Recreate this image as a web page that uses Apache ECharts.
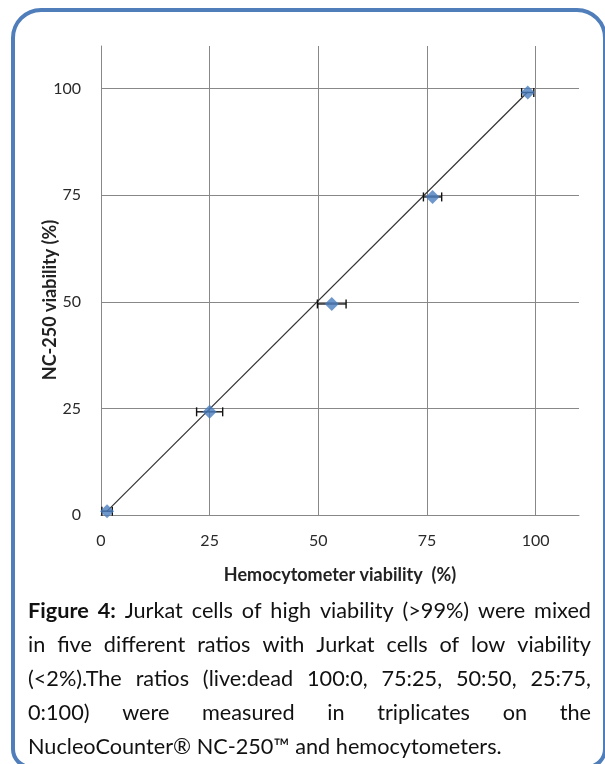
<!DOCTYPE html>
<html><head><meta charset="utf-8">
<script src="https://cdn.jsdelivr.net/npm/echarts@6/dist/echarts.min.js"></script>
<style>html,body{margin:0;padding:0;background:#fff}#c{width:605px;height:764px}</style>
</head><body><div id="c"></div>
<script>
// ---- data ----
const axisTicks = [0, 25, 50, 75, 100];
const hemocytometer = [1.4, 25.0, 53.1, 76.3, 98.2];   // x mean (%)
const nc250 = [0.9, 24.2, 49.5, 74.6, 99.1];           // y mean (%)
const hemoErr = [1.2, 3.0, 3.3, 2.1, 1.4];             // x error (+/-)
const trendX = [1.4, 98.2];
const trendY = [0.9, 99.2];
const xTitle = 'Hemocytometer viability  (%)';
const yTitle = 'NC-250 viability (%)';
const captionBold = 'Figure 4:';
const captionLines = [
  ' Jurkat cells of high viability (>99%) were mixed',
  'in five different ratios with Jurkat cells of low viability',
  '(<2%).The ratios (live:dead 100:0, 75:25, 50:50, 25:75,',
  '0:100) were measured in triplicates on the',
  'NucleoCounter® NC-250™ and hemocytometers.'
];

// ---- build ----
const FONT = 'Lato';
const ctx = document.createElement('canvas').getContext('2d');
function tw(t, size, bold) { ctx.font = (bold ? 'bold ' : '') + size + 'px ' + FONT; return ctx.measureText(t).width; }

const capLeft = 28, capRight = 591, capTop = 611, capStep = 34;
const capSize = 20 * 474 / tw(captionLines[4], 20, false);
const capColor = '#111';
const graphics = [];
graphics.push({
  type: 'rect', z: 0,
  shape: { x: 13, y: 10, width: 592, height: 757, r: [28, 28, 18, 18] },
  style: { fill: 'none', stroke: '#4F7EBB', lineWidth: 4 }
});
function addWord(text, x, y, bold) {
  graphics.push({
    type: 'text', x: x, y: y, z: 10,
    style: { text: text, fontSize: capSize, fontFamily: FONT, fontWeight: bold ? 'bold' : 'normal',
      fill: capColor, textAlign: 'left', textVerticalAlign: 'middle', align: 'left', verticalAlign: 'middle' }
  });
}
captionLines.forEach((line, i) => {
  const y = capTop + i * capStep;
  let words = line.trim().split(/\s+/).map(w => ({ t: w, b: false }));
  if (i === 0) words = captionBold.split(' ').map(w => ({ t: w, b: true })).concat(words);
  if (i === captionLines.length - 1) {
    addWord(line, capLeft, y, false);
    return;
  }
  const sum = words.reduce((a, w) => a + tw(w.t, capSize, w.b), 0);
  const gap = (capRight - capLeft - sum) / (words.length - 1);
  let x = capLeft;
  words.forEach(w => { addWord(w.t, x, y, w.b); x += tw(w.t, capSize, w.b) + gap; });
});
graphics.push({
  type: 'text', x: 50, y: 300, rotation: Math.PI / 2, z: 10,
  style: { text: yTitle, fontSize: 18, fontFamily: FONT, fontWeight: 'bold', fill: '#222',
    textAlign: 'center', textVerticalAlign: 'middle', align: 'center', verticalAlign: 'middle' }
});

const points = hemocytometer.map((x, i) => [x, nc250[i], hemoErr[i]]);
const gridColor = '#888';

const chart = echarts.init(document.getElementById('c'), null, { renderer: 'canvas' });
const axisCommon = {
  type: 'value', min: 0, max: 110, interval: 25,
  axisLine: { show: true, lineStyle: { color: gridColor, width: 1 } },
  axisTick: { show: false },
  splitLine: { show: true, showMaxLine: false, lineStyle: { color: gridColor, width: 1 } },
  axisLabel: { showMaxLabel: false, color: '#2a2a2a', fontSize: 16, fontFamily: FONT, margin: 18,
    formatter: v => axisTicks.indexOf(v) >= 0 ? String(v) : '' }
};
chart.setOption({
  animation: false,
  backgroundColor: '#fff',
  grid: { left: 101, top: 46, right: 26, bottom: 249, containLabel: false },
  xAxis: Object.assign({}, axisCommon, {
    name: xTitle, nameLocation: 'middle', nameGap: 51,
    nameTextStyle: { fontSize: 18, fontWeight: 'bold', fontFamily: FONT, color: '#222' }
  }),
  yAxis: Object.assign({}, axisCommon, { axisLabel: Object.assign({}, axisCommon.axisLabel, { margin: 20 }) }),
  graphic: { elements: graphics },
  series: [
    {
      type: 'line', data: trendX.map((x, i) => [x, trendY[i]]), symbol: 'none', z: 2,
      lineStyle: { color: '#333', width: 1.2 }
    },
    {
      type: 'custom', z: 3,
      data: points,
      renderItem: function (params, api) {
        const x = api.value(0), y = api.value(1), e = api.value(2);
        const a = api.coord([x - e, y]), b = api.coord([x + e, y]);
        const st = { stroke: '#111', lineWidth: 1.4 };
        return { type: 'group', children: [
          { type: 'line', shape: { x1: a[0], y1: a[1], x2: b[0], y2: b[1] }, style: st },
          { type: 'line', shape: { x1: a[0], y1: a[1] - 4.5, x2: a[0], y2: a[1] + 4.5 }, style: st },
          { type: 'line', shape: { x1: b[0], y1: b[1] - 4.5, x2: b[0], y2: b[1] + 4.5 }, style: st }
        ]};
      }
    },
    {
      type: 'scatter', data: points.map(p => [p[0], p[1]]), symbol: 'diamond', symbolSize: 14, z: 4,
      itemStyle: { color: '#4A7EBF' }
    }
  ]
});
</script></body></html>
